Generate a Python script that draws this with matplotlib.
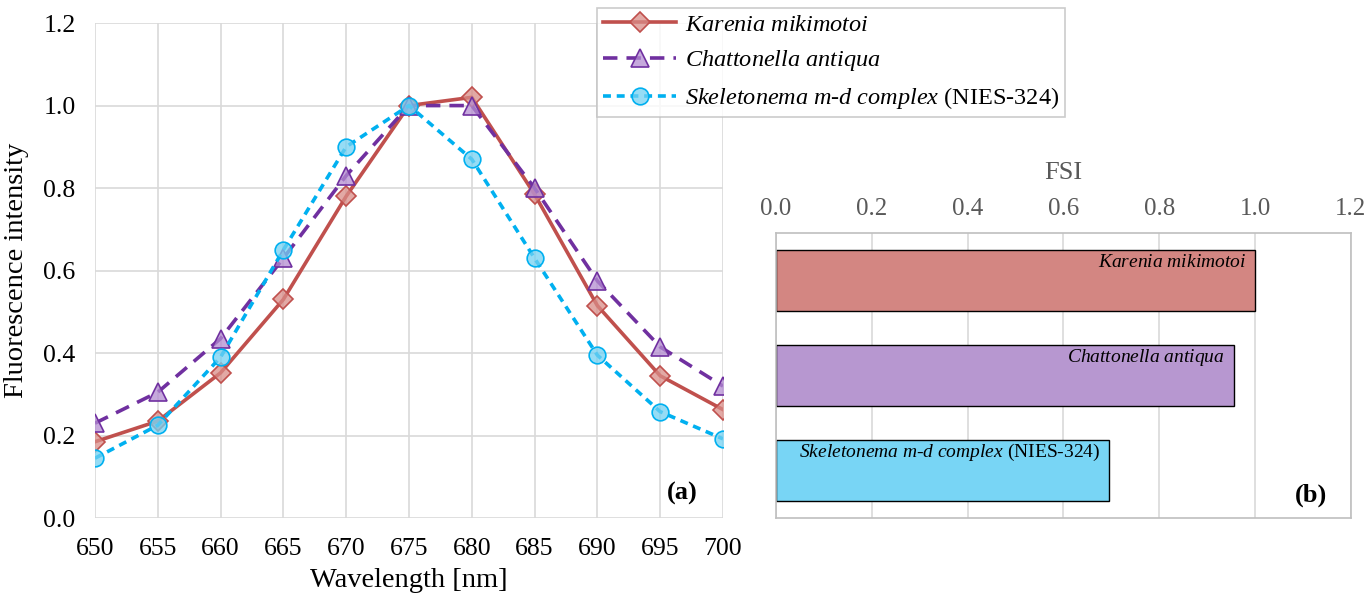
import matplotlib.pyplot as plt
import numpy as np

plt.rcParams["font.family"] = ["Liberation Serif", "DejaVu Serif"]
plt.rcParams["mathtext.fontset"] = "custom"
plt.rcParams["mathtext.rm"] = "Liberation Serif"
plt.rcParams["mathtext.it"] = "Liberation Serif:italic"

wavelength = [650, 655, 660, 665, 670, 675, 680, 685, 690, 695, 700]
karenia = [0.185, 0.235, 0.352, 0.53, 0.78, 1.0, 1.02, 0.785, 0.515, 0.345, 0.263]
chattonella = [0.23, 0.305, 0.435, 0.63, 0.83, 1.0, 1.0, 0.80, 0.575, 0.415, 0.32]
skeletonema = [0.145, 0.225, 0.39, 0.65, 0.90, 1.0, 0.87, 0.63, 0.395, 0.258, 0.192]

species_labels = [r"$\it{Karenia\ mikimotoi}$",
                  r"$\it{Chattonella\ antiqua}$",
                  r"$\it{Skeletonema\ m}$-$\it{d\ complex}$ (NIES-324)"]
fsi = [1.0, 0.955, 0.695]

line_colors = ["#C0504D", "#7030A0", "#00B0F0"]
marker_fill = [(0.85, 0.55, 0.53, 0.75), (0.70, 0.55, 0.82, 0.75), (0.45, 0.82, 0.95, 0.75)]
bar_colors = ["#D38682", "#B797D0", "#78D5F5"]
grid_c = "#D9D9D9"

fig = plt.figure(figsize=(13.7, 6.01), dpi=100)

# (a) spectra
ax = fig.add_axes([0.0693, 0.138, 0.4584, 0.8236])
series = [karenia, chattonella, skeletonema]
styles = [dict(ls="-", marker="D", ms=10),
          dict(ls=(0, (4, 2.5)), marker="^", ms=12.5),
          dict(ls=(0, (2.2, 1.6)), marker="o", ms=12)]
handles = []
for vals, c, mf, st, lab in zip(series, line_colors, marker_fill, styles, species_labels):
    h, = ax.plot(wavelength, vals, color=c, lw=2.6, mfc=mf, mec=c, mew=1.2, label=lab, **st)
    handles.append(h)
ax.set_xlim(650, 700)
ax.set_ylim(0, 1.2)
ax.set_xticks(wavelength)
ax.set_yticks(np.arange(0, 1.21, 0.2))
ax.yaxis.set_major_formatter(plt.FormatStrFormatter("%.1f"))
ax.grid(True, color=grid_c, lw=1.2)
ax.set_axisbelow(True)
for s in ax.spines.values():
    s.set_visible(False)
ax.tick_params(length=0, labelsize=18.5)
ax.tick_params(axis="x", pad=14)
ax.tick_params(axis="y", pad=14)
ax.set_xlabel("Wavelength [nm]", fontsize=20.5, labelpad=6)
ax.set_ylabel("Fluorescence intensity", fontsize=20.5, labelpad=10)
ax.text(0.935, 0.05, "(a)", transform=ax.transAxes, fontsize=19, fontweight="bold",
        ha="center", va="center")

# (b) FSI bars
bx = fig.add_axes([0.5664, 0.138, 0.4197, 0.4744])
ypos = np.arange(len(fsi))
bx.barh(ypos, fsi, height=0.65, color=bar_colors, edgecolor="black", lw=1.0, zorder=2)
bx.set_xlim(0, 1.2)
bx.set_ylim(2.5, -0.5)
bx.set_yticks([])
bx.set_xticks(np.arange(0, 1.21, 0.2))
bx.xaxis.set_major_formatter(plt.FormatStrFormatter("%.1f"))
bx.xaxis.tick_top()
bx.xaxis.set_label_position("top")
bx.tick_params(length=0, labelsize=18, labelcolor="#595959", pad=9)
bx.set_xlabel("FSI", fontsize=19, color="#595959", labelpad=14)
bx.grid(True, axis="x", color=grid_c, lw=1.2, zorder=0)
bx.set_axisbelow(True)
for s in bx.spines.values():
    s.set_color("#BFBFBF")
    s.set_linewidth(1.2)
for y, v, lab in zip(ypos, fsi, species_labels):
    bx.text(v - 0.018, y - 0.19, lab, fontsize=14, ha="right", va="center", zorder=3)
bx.text(0.93, 0.08, "(b)", transform=bx.transAxes, fontsize=19, fontweight="bold",
        ha="center", va="center")

leg = fig.legend(handles=handles, loc="upper left", bbox_to_anchor=(0.436, 0.987),
                 borderaxespad=0, fontsize=17.5, frameon=True, fancybox=False,
                 handlelength=3.0, borderpad=0.25, labelspacing=0.5, handletextpad=0.35)
leg.get_frame().set_edgecolor("#BFBFBF")
leg.get_frame().set_linewidth(1.2)

fig.savefig("out.png", dpi=100)
